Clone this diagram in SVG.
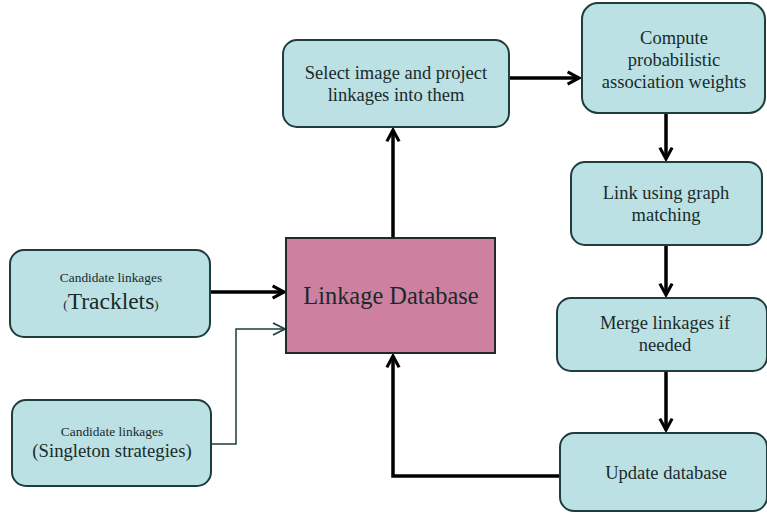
<svg xmlns="http://www.w3.org/2000/svg" width="767" height="514" viewBox="0 0 767 514">
<defs>
<style>
.box{fill:#BBE1E4;stroke:#1F3D3D;stroke-width:2}
.db{fill:#CD80A0;stroke:#1F2A2A;stroke-width:2}
.lbl{fill:#1a2a2a;text-anchor:middle}
.t{font-size:18.5px}
.thick{fill:none;stroke:#000;stroke-width:3.5}
.thin{fill:none;stroke:#1F3D3D;stroke-width:1.5}
</style>
<marker id="ah" viewBox="0 0 10 10" refX="8" refY="5" markerWidth="5" markerHeight="5" orient="auto" markerUnits="strokeWidth">
<path d="M1.5,1.5 L8,5 L1.5,8.5" fill="none" stroke="#000" stroke-width="1.8"/>
</marker>
<marker id="ahs" viewBox="0 0 10 10" refX="9" refY="5" markerWidth="10" markerHeight="10" orient="auto" markerUnits="strokeWidth">
<path d="M1,1 L9,5 L1,9" fill="none" stroke="#1F3D3D" stroke-width="1.2"/>
</marker>
</defs>
<rect width="767" height="514" fill="#fff"/>
<g id="connectors">
<path class="thick" d="M210,292 L284,292" marker-end="url(#ah)"/>
<path class="thin" d="M211,444 L236,444 L236,329 L285,329" marker-end="url(#ahs)"/>
<path class="thick" d="M393,237 L393,130" marker-end="url(#ah)"/>
<path class="thick" d="M509,78 L579,78" marker-end="url(#ah)"/>
<path class="thick" d="M666,113 L666,159" marker-end="url(#ah)"/>
<path class="thick" d="M666,245 L666,295" marker-end="url(#ah)"/>
<path class="thick" d="M666,371 L666,430" marker-end="url(#ah)"/>
<path class="thick" d="M560,476 L393,476 L393,356" marker-end="url(#ah)"/>
</g>
<g id="tracklets">
<rect class="box" x="10" y="250" width="200" height="87" rx="14"/>
<text class="lbl" font-family="Liberation Serif" x="111" y="282" font-size="13.4">Candidate linkages</text>
<text class="lbl" font-family="Liberation Serif" x="111" y="309" font-size="23.5"><tspan font-size="13">(</tspan>Tracklets<tspan font-size="13">)</tspan></text>
</g>
<g id="singleton">
<rect class="box" x="12" y="400" width="199" height="86" rx="14"/>
<text class="lbl" font-family="Liberation Serif" x="112" y="436" font-size="13.4">Candidate linkages</text>
<text class="lbl" font-family="Liberation Serif" x="112" y="457" font-size="18.7">(Singleton strategies)</text>
</g>
<g id="database">
<rect class="db" x="286" y="238" width="209" height="115"/>
<text class="lbl" font-family="Liberation Serif" x="391" y="304" font-size="24.4">Linkage Database</text>
</g>
<g id="select">
<rect class="box" x="283" y="40" width="226" height="87" rx="14"/>
<text class="lbl t" font-family="Liberation Serif" x="396" y="79">Select image and project</text>
<text class="lbl t" font-family="Liberation Serif" x="396" y="101">linkages into them</text>
</g>
<g id="compute">
<rect class="box" x="582" y="3" width="183" height="110" rx="16"/>
<text class="lbl t" font-family="Liberation Serif" x="674" y="44">Compute</text>
<text class="lbl t" font-family="Liberation Serif" x="674" y="66">probabilistic</text>
<text class="lbl t" font-family="Liberation Serif" x="674" y="88">association weights</text>
</g>
<g id="link">
<rect class="box" x="571" y="162" width="191" height="83" rx="14"/>
<text class="lbl t" font-family="Liberation Serif" x="666" y="199">Link using graph</text>
<text class="lbl t" font-family="Liberation Serif" x="666" y="221">matching</text>
</g>
<g id="merge">
<rect class="box" x="557" y="298" width="210" height="73" rx="14"/>
<text class="lbl t" font-family="Liberation Serif" x="665" y="329">Merge linkages if</text>
<text class="lbl t" font-family="Liberation Serif" x="665" y="351">needed</text>
</g>
<g id="update">
<rect class="box" x="560" y="433" width="207" height="78" rx="14"/>
<text class="lbl t" font-family="Liberation Serif" x="666" y="479">Update database</text>
</g>
</svg>
